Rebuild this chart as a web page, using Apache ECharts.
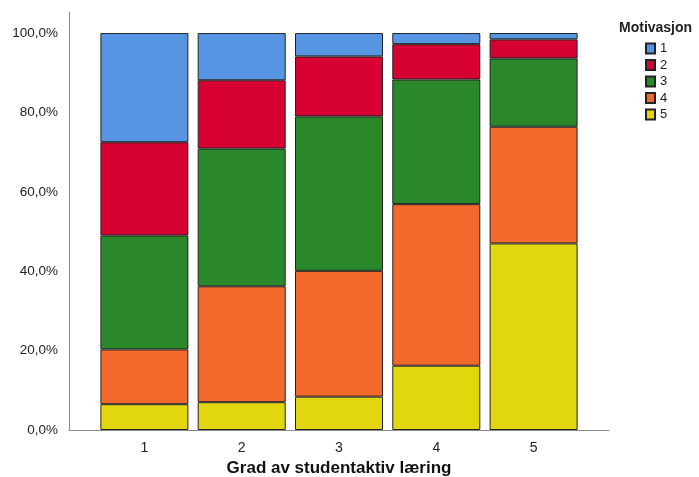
<!DOCTYPE html>
<html>
<head>
<meta charset="utf-8">
<script src="https://cdn.jsdelivr.net/npm/echarts@6/dist/echarts.min.js"></script>
<style>html,body{margin:0;padding:0;background:#fff}#c{width:699px;height:477px}</style>
</head>
<body>
<div id="c"></div>
<script>
const categories = [1, 2, 3, 4, 5];
const seriesNames = ['1', '2', '3', '4', '5'];
const motiv1 = [27.5, 11.9, 5.9, 2.8, 1.6];
const motiv2 = [23.5, 17.2, 15.1, 8.9, 4.8];
const motiv3 = [28.7, 34.7, 38.9, 31.4, 17.2];
const motiv4 = [13.8, 29.2, 31.7, 40.7, 29.4];
const motiv5 = [6.5, 7.0, 8.4, 16.2, 47.0];
const yTicks = [0, 20, 40, 60, 80, 100];
const colors = {'1': '#5795e3', '2': '#d60032', '3': '#2a882b', '4': '#f2692b', '5': '#e2d70f'};
const values = {'1': motiv1, '2': motiv2, '3': motiv3, '4': motiv4, '5': motiv5};

const font = 'Liberation Sans, Arial, sans-serif';
const chart = echarts.init(document.getElementById('c'), null, {renderer: 'canvas'});
const series = ['5', '4', '3', '2', '1'].map(n => ({
  name: n,
  type: 'bar',
  stack: 'total',
  barWidth: 88,
  encode: {x: 1, y: 0},
  itemStyle: {color: colors[n], borderColor: '#222', borderWidth: 1},
  emphasis: {disabled: true},
  data: categories.map((c, i) => [values[n][i], c])
}));
chart.setOption({
  animation: false,
  backgroundColor: '#fff',
  title: {
    text: 'Motivasjon', left: 614, top: 16,
    textStyle: {fontFamily: font, fontSize: 14, fontWeight: 'bold', color: '#222'}
  },
  legend: {
    data: seriesNames, orient: 'vertical', left: 645, top: 42, padding: 0,
    itemWidth: 9, itemHeight: 10, itemGap: 3.5, icon: 'rect',
    textStyle: {fontFamily: font, fontSize: 13, color: '#222'}
  },
  grid: {left: 69, top: 12, right: 90, bottom: 47, containLabel: false, outerBoundsMode: 'none'},
  xAxis: {
    type: 'value', min: 0.225, max: 5.775,
    name: 'Grad av studentaktiv læring', nameLocation: 'middle', nameGap: 30,
    nameTextStyle: {fontFamily: font, fontSize: 17, fontWeight: 'bold', color: '#111'},
    axisLine: {show: true, lineStyle: {color: '#8a8a8a', width: 1}},
    axisTick: {show: false},
    splitLine: {show: false},
    axisLabel: {customValues: categories, fontFamily: font, fontSize: 14, color: '#222', margin: 11}
  },
  yAxis: {
    type: 'value', min: 0, max: 105.3,
    axisLine: {show: true, lineStyle: {color: '#8a8a8a', width: 1}},
    axisTick: {show: false},
    splitLine: {show: false},
    axisLabel: {
      customValues: yTicks, fontFamily: font, fontSize: 13.5, color: '#222', margin: 11,
      formatter: v => v.toFixed(1).replace('.', ',') + '%'
    }
  },
  series: series
});
</script>
</body>
</html>
